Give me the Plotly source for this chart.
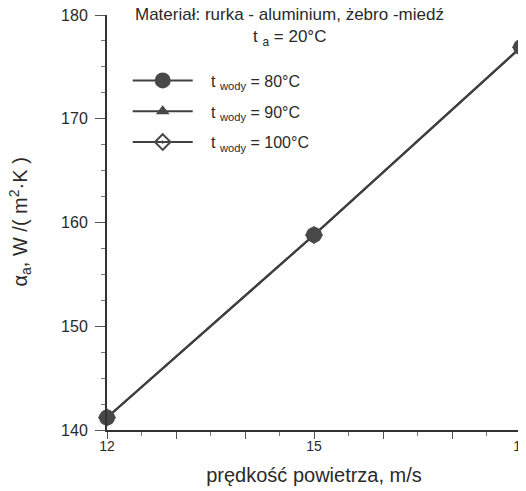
import plotly.graph_objects as go

speed = [12, 15, 18]
alpha_80 = [141.2, 158.8, 176.9]
alpha_90 = [141.2, 158.8, 176.9]
alpha_100 = [141.2, 158.8, 176.9]
x_tick_vals = [12, 13, 14, 15, 16, 17, 18]
x_tick_text = ["12", "", "", "15", "", "", "18"]
y_tick_vals = [140, 150, 160, 170, 180]

FONT = "Liberation Sans, Arial, sans-serif"
INK = "#2a2a2a"
PAD = "\u00a0\u00a0\u00a0"

fig = go.Figure()
# drawn bottom-to-top: 100 °C, 90 °C, 80 °C (circles on top); legend ranks 80, 90, 100
series = [
    (PAD + "t <sub>wody</sub> = 100°C", alpha_100, "diamond-open-dot", 12, 3),
    (PAD + "t <sub>wody</sub> = 90°C", alpha_90, "triangle-up", 12, 2),
    (PAD + "t <sub>wody</sub> = 80°C", alpha_80, "circle", 16, 1),
]
for name, vals, sym, sz, rank in series:
    fig.add_trace(go.Scatter(
        x=speed, y=vals, name=name, mode="lines+markers",
        line=dict(color="#404040", width=2),
        marker=dict(symbol=sym, size=sz, color="#484848",
                    line=dict(color="#383838", width=2 if "diamond" in sym else 0)),
        cliponaxis=False, legendgroup="g%d" % rank, legendrank=rank,
    ))

fig.update_layout(
    width=526, height=491,
    margin=dict(l=99, r=13, t=7, b=69),
    paper_bgcolor="white", plot_bgcolor="white",
    font=dict(family=FONT, color=INK, size=14),
    showlegend=True,
    legend=dict(x=0.05, y=0.883, xanchor="left", yanchor="top",
                traceorder="grouped", bgcolor="rgba(0,0,0,0)",
                font=dict(size=16), itemwidth=60, tracegroupgap=7),
    xaxis=dict(range=[12, 18], showline=True, linecolor="#333", linewidth=2,
               ticks="outside", ticklen=7, tickcolor="#555", tickwidth=1,
               tickvals=x_tick_vals, ticktext=x_tick_text,
               ticklabelstandoff=-5, ticklabeloverflow="allow",
               minor=dict(dtick=0.5, ticks="outside", ticklen=4, tickcolor="#777"),
               showgrid=False, zeroline=False, tickfont=dict(size=14),
               automargin=False,
               title=dict(text="prędkość powietrza, m/s", font=dict(size=20), standoff=15)),
    yaxis=dict(range=[140, 180], showline=True, linecolor="#333", linewidth=2,
               ticks="outside", ticklen=10, tickcolor="#555", tickwidth=1,
               tickvals=y_tick_vals, ticklabelstandoff=4, ticklabeloverflow="allow",
               minor=dict(dtick=2.5, ticks="outside", ticklen=4, tickcolor="#777"),
               showgrid=False, zeroline=False, tickfont=dict(size=16),
               automargin=False),
    annotations=[
        dict(text="α<sub>a</sub>, W /( m<sup>2</sup>·K )", x=-0.21, y=0.5,
             xref="paper", yref="paper", showarrow=False, textangle=-90,
             xanchor="center", yanchor="middle", font=dict(size=20)),
        dict(text="Materiał: rurka - aluminium, żebro -miedź", x=0.442, y=1.0024,
             xref="paper", yref="paper", showarrow=False, yanchor="middle",
             font=dict(size=17)),
        dict(text="t <sub>a</sub> = 20°C", x=0.44, y=0.9446,
             xref="paper", yref="paper", showarrow=False, yanchor="middle",
             font=dict(size=17)),
    ],
)

fig.write_html("out.html")
